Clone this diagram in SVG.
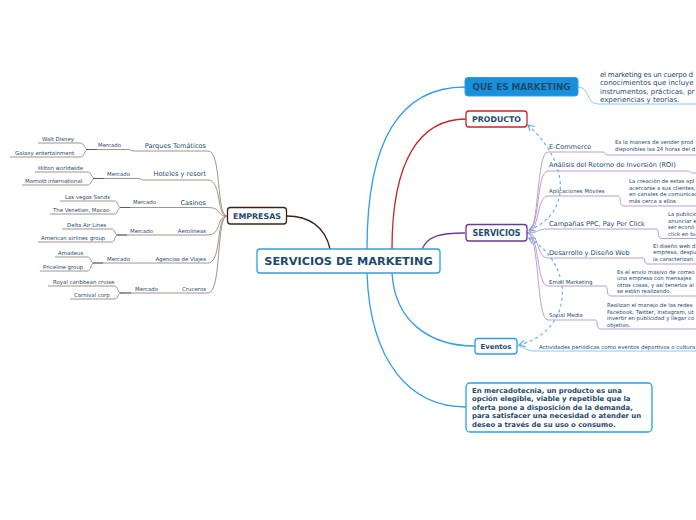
<svg xmlns="http://www.w3.org/2000/svg" width="696" height="520" viewBox="0 0 696 520">
<style>
text{font-family:"DejaVu Sans",Verdana,sans-serif;fill:#1e4a6d}
.b{font-weight:bold}
.box{fill:#fff;stroke-width:1.3}
.s{font-size:5.4px}
.m{font-size:6.6px}
.br{fill:none;stroke:#a39389;stroke-width:1}
.pu{fill:none;stroke:#b89fd2;stroke-width:1}
.bl{fill:none;stroke:#2f9ee4;stroke-width:1.3}
.dash{fill:none;stroke:#5aaee8;stroke-width:1.1;stroke-dasharray:3,3}
</style>
<defs>
<marker id="ar" viewBox="0 0 8 8" refX="7" refY="4" markerWidth="7" markerHeight="7" orient="auto-start-reverse" markerUnits="userSpaceOnUse">
<path d="M0,0 L7,4 L0,8" fill="none" stroke="#5aaee8" stroke-width="1.3"/>
</marker>
</defs>
<rect width="696" height="520" fill="#fff"/>

<g id="connectors">
<path d="M330,249 C325,226 308,216 287,216" fill="none" stroke="#3b2414" stroke-width="1.3"/>
<path class="bl" d="M367,249 C367,140 400,87 465,87"/>
<path d="M392,249 C392,160 420,119 466,119" fill="none" stroke="#c0282d" stroke-width="1.3"/>
<path d="M422,249 C428,236 440,233 465,233" fill="none" stroke="#6b3a96" stroke-width="1.3"/>
<path class="bl" d="M392,273 C395,322 430,346 475,346"/>
<path class="bl" d="M367,273 C370,362 410,407 466,407"/>
<path d="M578,87 C590,87 586,104 598,104 L696,104" fill="none" stroke="#8cc8ee" stroke-width="1"/>
<path d="M517,346 C525,346 525,351 535,351 L696,351" fill="none" stroke="#8cc8ee" stroke-width="1"/>
<path class="dash" d="M529,230 C570,215 572,165 528,125" marker-start="url(#ar)" marker-end="url(#ar)"/>
<path class="dash" d="M529,238 C575,265 575,330 519,345" marker-start="url(#ar)" marker-end="url(#ar)"/>
<!-- empresas branches -->
<path class="br" d="M227,216 C216,216 222,151 208,151 L134,151 C131,151 131,149.5 128,149.5 L88,149.5"/>
<path class="br" d="M227,216 C216,216 222,180 208,180 L144,180 C141,180 141,178.5 138,178.5 L95,178.5"/>
<path class="br" d="M227,216 C216,216 222,207.5 208,207.5 L121,207.5"/>
<path class="br" d="M227,216 C216,216 222,235 208,235 L118,235"/>
<path class="br" d="M227,216 C216,216 222,263 208,263 L94,263"/>
<path class="br" d="M227,216 C216,216 222,293 208,293 L121,293"/>
<path class="br" d="M38,143 L80,143 C85,143 84,149.5 88,149.5 M10,157 L80,157 C85,157 84,149.5 88,149.5"/>
<path class="br" d="M35,172 L87,172 C92,172 91,178.5 95,178.5 M22,185 L87,185 C92,185 91,178.5 95,178.5"/>
<path class="br" d="M60,201 L114,201 C119,201 117,207.5 121,207.5 M50,214 L114,214 C119,214 117,207.5 121,207.5"/>
<path class="br" d="M62,229 L111,229 C116,229 114,235 118,235 M38,242 L111,242 C116,242 114,235 118,235"/>
<path class="br" d="M55,257 L87,257 C92,257 90,263 94,263 M40,271 L87,271 C92,271 90,263 94,263"/>
<path class="br" d="M48,286 L114,286 C119,286 117,293 121,293 M70,299 L114,299 C119,299 117,293 121,293"/>
<path d="M86,149.5 L97,149.5 M93,178.5 L104,178.5 M120,207.5 L130,207.5 M117,235 L127,235 M93,263 L103,263 M120,293 L131,293" stroke="#6e5a4e" stroke-width="1"/>
<!-- servicios branches -->
<path class="pu" d="M527,233 C540,233 536,152 548,152 L603,152 C606,152 604,155 608,155 L696,155"/>
<path class="pu" d="M527,233 C540,233 536,171 548,171 L688,171 C691,171 690,173 694,173 L696,173"/>
<path class="pu" d="M527,233 C540,233 536,196 548,196 L618,196 C622,196 618,206 624,206 L696,206"/>
<path class="pu" d="M527,233 C540,233 536,229 548,229 L656,229 C660,229 656,238.5 662,238.5 L696,238.5"/>
<path class="pu" d="M527,233 C540,233 536,258 548,258 L643,258 C646,258 643,264 648,264 L696,264"/>
<path class="pu" d="M527,233 C540,233 536,286 548,286 L605,286 C609,286 605,296 611,296 L696,296"/>
<path class="pu" d="M527,233 C540,233 536,320 548,320 L595,320 C599,320 595,329 601,329 L696,329"/>
</g>

<g id="center">
<rect class="box" x="257" y="249" width="183" height="24" rx="3" stroke="#2f9ee4" stroke-width="1.6"/>
<text class="b" x="348.5" y="265.2" text-anchor="middle" font-size="11.3">SERVICIOS DE MARKETING</text>
</g>

<g id="que-es-marketing">
<rect x="465" y="77.5" width="113" height="18.5" rx="3" fill="#1a90dc" stroke="#2f9ee4" stroke-width="1"/>
<text class="b" x="521.5" y="90" text-anchor="middle" font-size="8.8">QUE ES MARKETING</text>
<text x="600" y="76.5" font-size="7" textLength="93" lengthAdjust="spacing">el marketing es un cuerpo d</text>
<text x="600" y="85" font-size="7">conocimientos que incluye</text>
<text x="600" y="93.5" font-size="7">instrumentos, prácticas, pr</text>
<text x="600" y="102" font-size="7">experiencias y teorías.</text>
</g>

<g id="producto">
<rect class="box" x="466" y="111" width="61" height="16" rx="3" stroke="#c0282d"/>
<text class="b" x="496.5" y="122" text-anchor="middle" font-size="7.8">PRODUCTO</text>
</g>

<g id="servicios">
<rect class="box" x="466" y="224.5" width="61" height="16.5" rx="3" stroke="#6b3a96"/>
<text class="b" x="496.5" y="235.8" text-anchor="middle" font-size="8">SERVICIOS</text>
</g>

<g id="ecommerce">
<text class="m" x="549" y="149">E-Commerce</text>
<text class="s" x="615" y="144">Es la manera de vender prod</text>
<text class="s" x="615" y="151">disponibles las 24 horas del d</text>
</g>
<g id="roi">
<text class="m" x="549" y="167">Análisis del Retorno de Inversión (ROI)</text>
</g>
<g id="apps">
<text class="s" x="549" y="193">Aplicaciones Móviles</text>
<text class="s" x="629" y="183">La creación de estas apl</text>
<text class="s" x="629" y="189.5">acercarse a sus clientes,</text>
<text class="s" x="629" y="196">en canales de comunicac</text>
<text class="s" x="629" y="202.5">más cerca a ellos.</text>
</g>
<g id="ppc">
<text class="m" x="549" y="226">Campañas PPC, Pay Per Click</text>
<text class="s" x="668" y="216">La publicid</text>
<text class="s" x="668" y="222.5">anunciar e</text>
<text class="s" x="668" y="229">ser econó</text>
<text class="s" x="668" y="235.5">click en tu</text>
</g>
<g id="web">
<text class="m" x="549" y="255">Desarrollo y Diseño Web</text>
<text class="s" x="653" y="247.5">El diseño web d</text>
<text class="s" x="653" y="254">empresa, despu</text>
<text class="s" x="653" y="260.5">la caracterizan.</text>
</g>
<g id="email">
<text class="s" x="549" y="284">Email Marketing</text>
<text class="s" x="617" y="273.5">Es el envío masivo de correo</text>
<text class="s" x="617" y="280">una empresa con mensajes</text>
<text class="s" x="617" y="286.5">otras cosas, y así tenerlos al</text>
<text class="s" x="617" y="293">se están realizando.</text>
</g>
<g id="social">
<text class="s" x="549" y="317">Social Media</text>
<text class="s" x="607" y="307">Realizan el manejo de las redes</text>
<text class="s" x="607" y="313.5">Facebook, Twitter, Instagram, ut</text>
<text class="s" x="607" y="320">invertir en publicidad y llegar co</text>
<text class="s" x="607" y="326.5">objetivo.</text>
</g>

<g id="eventos">
<rect class="box" x="475" y="338.5" width="42" height="15.5" rx="3" stroke="#2f9ee4"/>
<text class="b" x="496" y="348.8" text-anchor="middle" font-size="6.9">Eventos</text>
<text class="s" x="539" y="348.5">Actividades periódicas como eventos deportivos o cultura</text>
</g>

<g id="producto-def">
<rect class="box" x="466" y="383" width="186" height="49" rx="4" stroke="#2f9ee4"/>
<text class="b" x="472" y="392.5" font-size="6.9">En mercadotecnia, un producto es una</text>
<text class="b" x="472" y="401" font-size="6.9">opción elegible, viable y repetible que la</text>
<text class="b" x="472" y="409.5" font-size="6.9">oferta pone a disposición de la demanda,</text>
<text class="b" x="472" y="418" font-size="6.9">para satisfacer una necesidad o atender un</text>
<text class="b" x="472" y="426.5" font-size="6.9">deseo a través de su uso o consumo.</text>
</g>

<g id="empresas">
<rect class="box" x="227.5" y="207.5" width="59" height="16.5" rx="3" stroke="#3b2414"/>
<text class="b" x="257" y="218.8" text-anchor="middle" font-size="7.9">EMPRESAS</text>
</g>

<g id="parques">
<text class="m" x="206" y="148" text-anchor="end">Parques Temáticos</text>
<text class="s" x="98" y="147">Mercado</text>
<text class="s" x="42" y="141">Walt Disney</text>
<text class="s" x="15" y="154.5">Galaxy entertainment</text>
</g>
<g id="hoteles">
<text class="m" x="206" y="176" text-anchor="end">Hoteles y resort</text>
<text class="s" x="107" y="176">Mercado</text>
<text class="s" x="38" y="169.5">Hilton worldwide</text>
<text class="s" x="25" y="182.5">Marriott international</text>
</g>
<g id="casinos">
<text class="m" x="206" y="204.5" text-anchor="end">Casinos</text>
<text class="s" x="133" y="204">Mercado</text>
<text class="s" x="65" y="198.5">Las vegas Sands</text>
<text class="s" x="53" y="211.5">The Venetian, Macao</text>
</g>
<g id="aerolineas">
<text class="s" x="206" y="233" text-anchor="end">Aerolíneas</text>
<text class="s" x="130" y="233">Mercado</text>
<text class="s" x="67" y="226.5">Delta Air Lines</text>
<text class="s" x="41" y="239.5">American airlines group</text>
</g>
<g id="agencias">
<text class="s" x="206" y="261" text-anchor="end">Agencias de Viajes</text>
<text class="s" x="107" y="261">Mercado</text>
<text class="s" x="58" y="255">Amadeus</text>
<text class="s" x="43" y="268.5">Priceline group</text>
</g>
<g id="cruceros">
<text class="s" x="206" y="290.5" text-anchor="end">Cruceros</text>
<text class="s" x="135" y="290.5">Mercado</text>
<text class="s" x="53" y="283.5">Royal caribbean cruise</text>
<text class="s" x="74" y="296.5">Carnival corp</text>
</g>
</svg>
